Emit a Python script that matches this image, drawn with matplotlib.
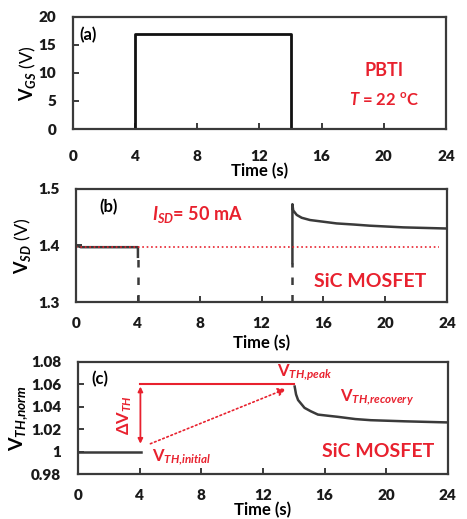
import matplotlib.pyplot as plt

plt.rcParams['font.family'] = ['Lato', 'DejaVu Sans']
plt.rcParams['font.weight'] = 'bold'
plt.rcParams['mathtext.fontset'] = 'custom'
plt.rcParams['mathtext.rm'] = 'Lato:bold'
plt.rcParams['mathtext.it'] = 'Lato:italic:bold'
plt.rcParams['mathtext.bf'] = 'Lato:bold'

RED = '#e8212e'
LINE = '#3a3a3a'

# (a) gate voltage
t_gate = [0, 4, 4, 14, 14, 24]
vgs = [0, 0, 17, 17, 0, 0]

# (b) source-drain voltage
t_sd_pre = [0, 0.3, 4, 4]
vsd_pre = [1.400, 1.397, 1.397, 1.380]
t_sd_rec = [14, 14, 14.05, 14.28, 14.6, 15.14, 16.0, 16.86, 18.0, 19.0, 21.2, 24]
vsd_rec = [1.369, 1.473, 1.462, 1.454, 1.449, 1.445, 1.442, 1.439, 1.437, 1.435, 1.432, 1.430]
vsd_ref = 1.397

# (c) normalised threshold voltage
t_th_pre = [0, 4.1]
vth_pre = [1.0, 1.0]
t_th_rec = [14.06, 14.15, 14.28, 14.7, 15.1, 15.57, 16.2, 16.86, 18.0, 19.0, 21.2, 24]
vth_rec = [1.058, 1.051, 1.046, 1.039, 1.036, 1.033, 1.032, 1.031, 1.029, 1.028, 1.027, 1.026]
vth_peak = 1.06

xticks = [0, 4, 8, 12, 16, 20, 24]


def style(ax, yticks, ylabels, xpad, xlabelpad):
    ax.set_xlim(0, 24)
    ax.set_xticks(xticks)
    ax.set_yticks(yticks)
    ax.set_yticklabels(ylabels)
    ax.tick_params(axis='both', direction='in', length=4, width=1.2,
                   labelsize=11, colors='#1a1a1a')
    ax.tick_params(axis='x', pad=xpad)
    ax.tick_params(axis='y', pad=12)
    for lab in ax.get_xticklabels() + ax.get_yticklabels():
        lab.set_fontweight('heavy')
    for s in ax.spines.values():
        s.set_linewidth(1.6)
        s.set_color(LINE)
    ax.set_xlabel('Time (s)', fontsize=12, fontweight='bold', labelpad=xlabelpad)


fig = plt.figure(figsize=(4.67, 5.19), dpi=100)

# panel (a)
ax1 = fig.add_axes([0.156, 0.7514, 0.799, 0.216])
ax1.plot(t_gate, vgs, color='#111111', lw=2)
ax1.set_ylim(0, 20)
style(ax1, [0, 5, 10, 15, 20], ['0', '5', '10', '15', '20'], 15, 0)
ax1.set_ylabel(r'$\mathrm{V}_{\mathit{GS}}$ (V)', fontsize=13, labelpad=0)
ax1.text(0.4, 16.8, '(a)', fontsize=12, va='center')
ax1.text(20, 10.4, 'PBTI', color=RED, fontsize=13, ha='center', va='center')
ax1.text(20, 5.2, r'$T$ = 22 $^{\mathrm{o}}$C', color=RED, fontsize=12,
         ha='center', va='center')

# panel (b)
ax2 = fig.add_axes([0.163, 0.418, 0.794, 0.218])
ax2.plot(t_sd_pre, vsd_pre, color=LINE, lw=1.8)
ax2.plot([4, 4], [1.30, vsd_pre[-1]], color=LINE, lw=1.8, ls=(0, (3, 4)))
ax2.plot([14, 14], [1.30, vsd_rec[0]], color=LINE, lw=1.8, ls=(0, (3, 4)))
ax2.plot(t_sd_rec, vsd_rec, color=LINE, lw=1.8)
ax2.plot([0, 23.5], [vsd_ref, vsd_ref], color=RED, lw=1.2, ls=':')
ax2.set_ylim(1.3, 1.5)
style(ax2, [1.3, 1.4, 1.5], ['1.3', '1.4', '1.5'], 11, 3)
ax2.set_ylabel(r'$\mathrm{V}_{\mathit{SD}}$ (V)', fontsize=13, labelpad=4)
ax2.text(1.5, 1.467, '(b)', fontsize=12, va='center')
ax2.text(4.9, 1.455, r'$I_{SD}$= 50 mA', color=RED, fontsize=13, va='center')
ax2.text(19.0, 1.337, 'SiC MOSFET', color=RED, fontsize=14,
         ha='center', va='center')

# panel (c)
ax3 = fig.add_axes([0.167, 0.0867, 0.792, 0.216])
ax3.plot(t_th_pre, vth_pre, color=LINE, lw=1.8)
ax3.plot(t_th_rec, vth_rec, color=LINE, lw=1.8)
ax3.plot([4, 14], [vth_peak, vth_peak], color=RED, lw=1.5)
ax3.annotate('', xy=(4.05, 1.058), xytext=(4.05, 1.007),
             arrowprops=dict(arrowstyle='<|-|>', color=RED, lw=1.3,
                             mutation_scale=7, shrinkA=0, shrinkB=0))
ax3.annotate('', xy=(13.5, 1.056), xytext=(4.7, 1.007),
             arrowprops=dict(arrowstyle='-|>', color=RED, lw=1.2, ls=':',
                             mutation_scale=12, shrinkA=0, shrinkB=0))
ax3.set_ylim(0.98, 1.08)
style(ax3, [0.98, 1.0, 1.02, 1.04, 1.06, 1.08],
      ['0.98', '1', '1.02', '1.04', '1.06', '1.08'], 11, 0)
ax3.set_ylabel(r'$\mathrm{V}_{\mathit{TH{,}norm}}$', fontsize=14, labelpad=1)
ax3.text(0.9, 1.065, '(c)', fontsize=12, va='center')
ax3.text(3.0, 1.033, r'$\Delta\mathrm{V}_{\mathit{TH}}$', color=RED, fontsize=12,
         rotation=90, ha='center', va='center')
ax3.text(4.8, 0.995, r'$\mathrm{V}_{\mathit{TH{,}initial}}$', color=RED,
         fontsize=12, va='center')
ax3.text(12.9, 1.07, r'$\mathrm{V}_{\mathit{TH{,}peak}}$', color=RED,
         fontsize=12, va='center')
ax3.text(17.0, 1.048, r'$\mathrm{V}_{\mathit{TH{,}recovery}}$', color=RED,
         fontsize=12, va='center')
ax3.text(19.5, 1.0, 'SiC MOSFET', color=RED, fontsize=14,
         ha='center', va='center')

fig.savefig('out.png', dpi=100)
